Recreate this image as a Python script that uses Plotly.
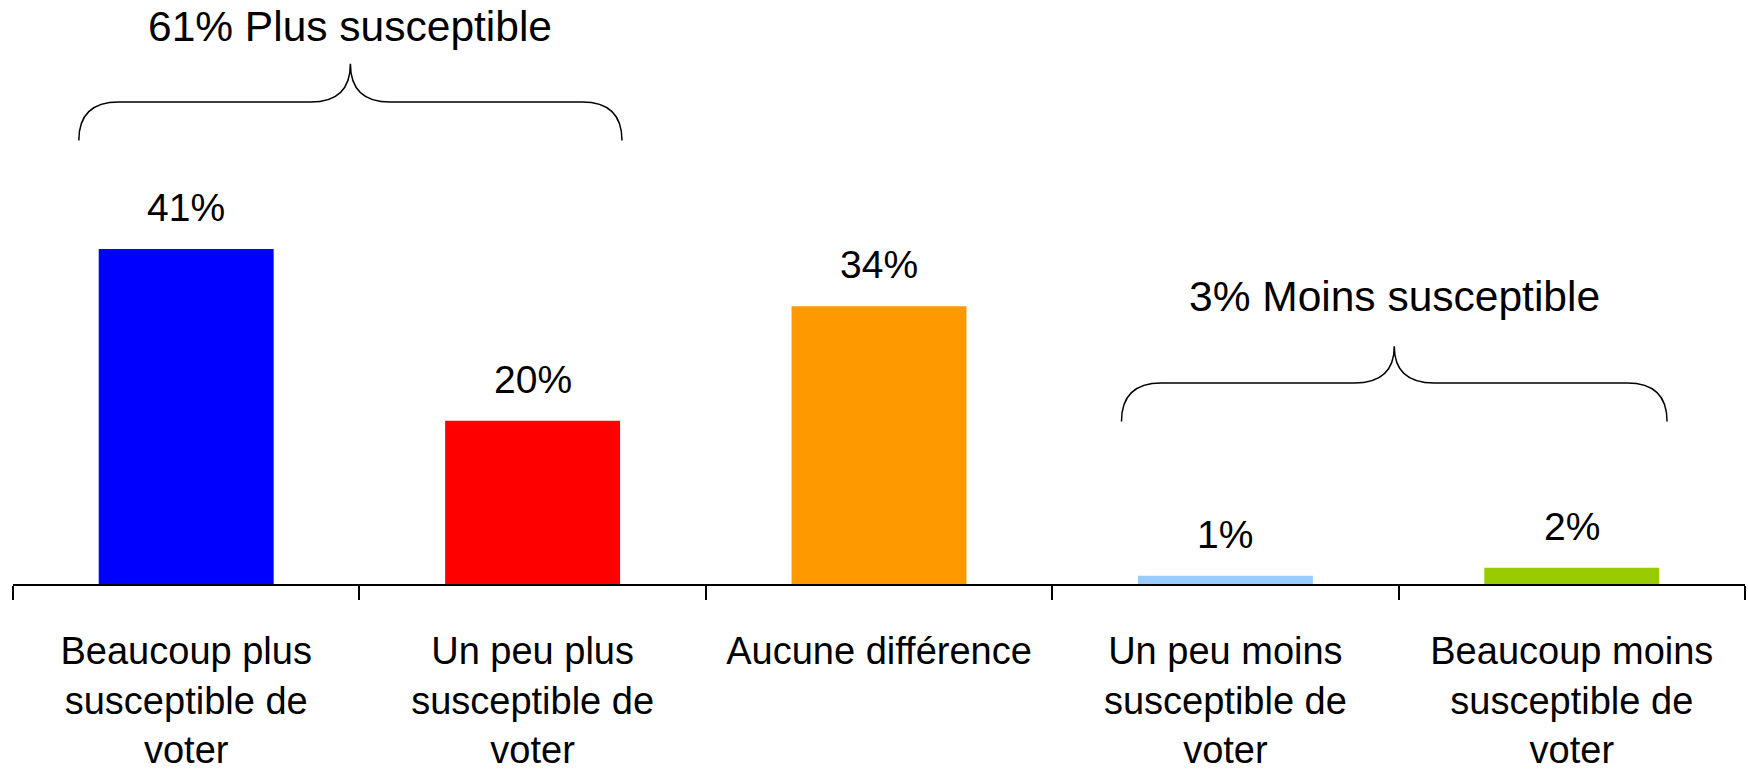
import plotly.graph_objects as go

# Données
categories = [
    "Beaucoup plus<br>susceptible de<br>voter",
    "Un peu plus<br>susceptible de<br>voter",
    "Aucune différence",
    "Un peu moins<br>susceptible de<br>voter",
    "Beaucoup moins<br>susceptible de<br>voter",
]
values = [41, 20, 34, 1, 2]
colors = ["#0000FF", "#FF0000", "#FF9900", "#99CCFF", "#99CC00"]

group_labels = ["61% Plus susceptible", "3% Moins susceptible"]
group_members = [[0, 1], [3, 4]]

FONT = "Liberation Sans, Arial, sans-serif"

fig = go.Figure()
fig.add_trace(go.Bar(
    x=categories,
    y=values,
    marker=dict(color=colors, line=dict(width=0)),
    hoverinfo="skip",
))

# étiquettes de valeurs au-dessus des barres
for cat, val in zip(categories, values):
    fig.add_annotation(x=cat, y=val, text=f"{val}%", showarrow=False,
                       yanchor="bottom", yshift=18,
                       font=dict(family=FONT, size=39, color="black"))


# accolades au-dessus des groupes
def brace_path(x0, x1, yb, yt, rx=0.115, ry=4.7):
    xc = (x0 + x1) / 2
    yh = yb + ry
    return (f"M {x0},{yb} Q {x0},{yh} {x0 + rx},{yh} "
            f"L {xc - rx},{yh} Q {xc},{yh} {xc},{yt} "
            f"Q {xc},{yh} {xc + rx},{yh} "
            f"L {x1 - rx},{yh} Q {x1},{yh} {x1},{yb}")


brace_pad = [(-0.31, 0.258), (-0.30, 0.275)]
brace_y = [(54.3, 63.7), (19.9, 29.1)]
label_y = [68.2, 35.2]
for members, (pl, pr), (yb, yt), text, ly in zip(group_members, brace_pad, brace_y,
                                                  group_labels, label_y):
    x0 = members[0] + pl
    x1 = members[-1] + pr
    fig.add_shape(type="path", path=brace_path(x0, x1, yb, yt),
                  xref="x", yref="y", line=dict(color="black", width=1.5))
    fig.add_annotation(x=(x0 + x1) / 2, y=ly, text=text, showarrow=False,
                       xref="x", yref="y", yanchor="middle",
                       font=dict(family=FONT, size=42.5, color="black"))

fig.update_layout(
    width=1748, height=771,
    paper_bgcolor="white", plot_bgcolor="white",
    margin=dict(l=13, r=3, t=0, b=178),
    bargap=0.495,
    showlegend=False,
    font=dict(family=FONT, color="black"),
)
fig.update_xaxes(
    type="category", range=[-0.5, 4.5],
    showline=True, linecolor="black", linewidth=1.5,
    ticks="outside", tickson="boundaries", ticklen=14, tickwidth=1.5, tickcolor="black",
    ticklabelstandoff=33,
    tickfont=dict(family=FONT, size=38, color="black"),
    showgrid=False, zeroline=False,
)
fig.update_yaxes(visible=False, range=[0, 71.5], showgrid=False, zeroline=False)

# pas de marge de page autour du graphique
fig.write_html("out.html", config={"displayModeBar": False},
               post_script="document.body.style.margin = '0';")
